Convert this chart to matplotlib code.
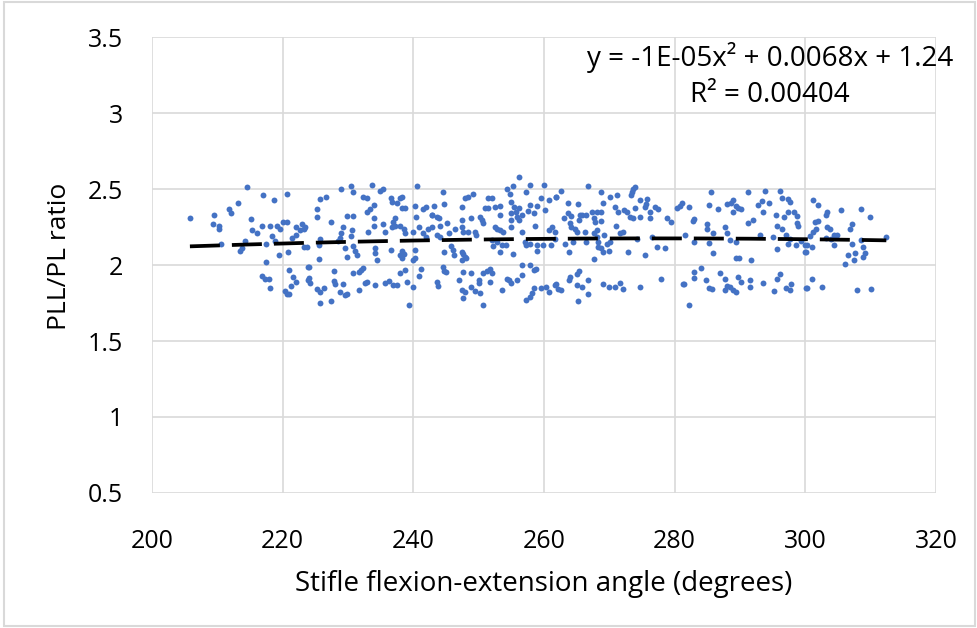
import numpy as np
import matplotlib.pyplot as plt

# stifle angle (degrees) and PLL/PL ratio
angle = [
    205.8, 214.6, 217.0, 218.7, 220.6, 213.1, 211.8, 212.1, 209.5, 209.4, 210.3, 210.3,
    215.2, 216.9, 215.3, 216.0, 218.0, 218.3, 219.1, 219.6, 220.1, 220.7, 214.2, 210.6,
    213.5, 213.7, 217.4, 218.9, 219.4, 220.8, 217.4, 216.8, 217.3, 217.9, 218.1, 221.0,
    221.6, 222.0, 221.3, 220.3, 220.6, 221.0, 222.1, 222.7, 222.1, 222.9, 223.2, 221.4,
    223.3, 223.9, 223.9,
    225.7, 226.6, 225.2, 225.2, 227.4, 223.4, 225.7, 225.6, 223.7, 225.5, 224.0, 224.0,
    224.2, 225.2, 225.7, 226.4, 225.7, 227.4, 227.8, 227.8, 228.0, 228.7, 229.3, 229.5,
    229.9, 229.0, 230.5, 230.7, 229.8, 230.8, 229.3, 229.0, 228.8, 228.5, 230.6, 230.5,
    230.7, 229.5, 231.1, 231.3, 229.9, 231.7, 232.0, 232.3, 230.7, 231.7, 232.6, 232.9,
    232.3, 232.9, 233.6, 234.9, 235.3, 234.0, 233.4, 232.9, 234.0, 234.0, 233.0, 235.4,
    235.7, 234.1, 234.2, 234.4, 234.1, 235.7, 236.2, 236.9, 237.5, 236.6, 236.8, 237.5,
    237.9, 238.2, 237.2, 236.9, 237.2, 236.8, 238.0, 238.5, 238.7, 238.2, 238.7, 236.6,
    238.2, 238.0, 238.5, 238.2, 238.0, 238.7, 239.0, 239.9, 239.3, 240.5, 240.3, 240.4,
    240.8, 239.9, 240.3, 240.3, 240.0, 241.2, 240.8, 241.5, 242.0, 242.8, 243.1, 242.3,
    241.5, 242.0,
    244.5, 244.7, 242.8, 243.6, 244.0, 242.8, 244.1, 245.2, 246.4, 243.6, 244.1, 245.4,
    247.4, 247.4, 247.6, 247.4, 247.9, 248.4, 249.2, 248.3, 248.9, 249.4, 249.6, 250.2,
    250.5, 251.0, 250.7, 251.5, 252.0, 251.5, 252.5, 253.2, 253.3, 252.5, 252.8, 253.3,
    253.7, 252.0, 252.2, 252.8, 253.5, 254.2, 253.2, 245.7, 246.0, 246.2, 244.7, 247.4,
    247.6, 247.9, 247.4, 248.1, 244.5, 244.7, 245.0, 247.6, 247.0, 243.6, 243.8, 247.4,
    247.9, 247.6, 248.9, 248.8, 250.0, 250.1, 250.2, 249.4, 250.7, 251.3, 251.7, 252.0,
    251.8, 250.6, 253.5, 254.4, 254.7, 255.0, 255.8, 256.7, 256.6, 255.2, 254.8, 254.3,
    255.3, 256.2, 254.9, 255.4, 255.7, 256.1, 255.0, 255.9, 255.0, 254.9, 256.2, 256.6,
    257.3, 257.9, 257.9, 257.6, 258.9, 258.5, 259.6, 258.6, 256.6, 257.1, 257.3, 257.8,
    258.9, 259.0, 259.9, 260.0, 260.2, 260.7, 260.7, 261.2, 261.0, 261.7, 261.9, 257.8,
    258.4, 258.8, 258.1, 257.8, 257.3, 258.4, 259.6, 260.3, 260.8, 261.7, 262.2,
    262.6, 261.9, 263.7, 265.2, 266.8, 268.8, 269.0, 270.1, 271.1, 270.9, 273.4, 273.7,
    274.0, 273.3, 274.7, 275.7, 275.6, 275.4, 277.0, 277.5, 263.7, 264.1, 263.0, 265.5,
    265.3, 265.8, 266.5, 267.3, 267.6, 268.1, 268.8, 267.8, 268.8, 264.0, 264.2, 264.8,
    265.0, 266.3, 268.1, 271.0, 271.4, 272.2, 272.7, 273.2, 274.0, 273.7, 274.7, 276.2,
    276.2, 278.8, 279.4, 280.3, 280.8, 261.7, 263.2, 264.5, 263.9, 266.5, 267.6, 268.1,
    268.2, 268.3, 268.8, 269.2, 269.6, 270.1, 269.1, 269.9, 271.6, 272.1, 272.9, 274.2,
    275.5, 276.5, 277.3, 278.5, 267.7, 265.3, 265.0, 264.0, 263.8, 261.9, 262.6, 265.0,
    265.8, 266.7, 266.8, 265.2, 269.1, 269.9, 270.8, 271.6, 272.1, 274.7, 277.9, 281.3,
    285.5, 285.3, 286.7, 282.2, 281.1, 282.8, 283.0, 284.9, 285.0, 287.7, 288.0, 285.8,
    281.6, 288.0, 288.6, 289.0, 289.4, 289.7, 290.1, 289.0, 291.3, 292.8, 293.3, 293.5,
    293.8, 294.5, 291.3, 292.0, 293.0, 296.1, 296.4, 297.4, 297.7, 295.5, 296.7, 297.4,
    298.2, 298.7, 298.7, 298.9, 295.6, 296.4, 297.0, 295.1, 297.4, 297.7, 298.6, 299.4,
    299.9, 300.1, 295.7, 282.9, 285.2, 288.4, 289.4, 285.8, 289.4, 289.9, 291.7, 281.4,
    282.2, 283.0, 283.0, 284.1, 284.8, 285.2, 285.7, 287.0, 287.7, 288.0, 287.7, 288.5,
    289.0, 289.4, 289.7, 290.1, 291.5, 291.6, 293.5, 295.2, 295.6, 296.1, 297.0, 297.8,
    297.7, 300.1,
    301.2, 302.0, 303.3, 303.1, 305.5, 308.5, 309.9, 301.5, 302.0, 301.7, 301.2, 303.3,
    303.8, 307.1, 306.8, 300.7, 303.1, 304.4, 304.9, 304.0, 300.2, 301.1, 300.0, 304.4,
    307.1, 308.6, 308.9, 312.4, 306.6, 307.6, 307.4, 306.1, 308.9, 309.2, 301.1, 300.2,
    302.6, 307.9, 310.1,
]

ratio = [
    2.311, 2.513, 2.460, 2.430, 2.470, 2.410, 2.370, 2.340, 2.330, 2.270, 2.257, 2.240,
    2.300, 2.260, 2.230, 2.210, 2.257, 2.190, 2.260, 2.240, 2.285, 2.280, 2.160, 2.140,
    2.090, 2.110, 2.136, 2.158, 2.068, 2.088, 2.018, 1.930, 1.910, 1.906, 1.850, 1.965,
    1.920, 1.890, 1.864, 1.830, 1.810, 1.810, 2.250, 2.230, 2.200, 2.270, 2.240, 2.175,
    2.120, 1.990, 1.900,
    2.434, 2.450, 2.370, 2.316, 2.280, 2.250, 2.170, 2.130, 2.120, 2.040, 1.990, 1.917,
    1.880, 1.840, 1.825, 1.850, 1.750, 1.760, 1.960, 1.895, 1.873, 1.825, 1.873, 1.800,
    1.810, 2.500, 2.520, 2.480, 2.325, 2.325, 2.250, 2.210, 2.180, 2.158, 2.230, 2.190,
    2.127, 2.110, 2.090, 2.066, 2.055, 1.956, 1.967, 1.980, 1.950, 1.836, 1.880, 1.890,
    2.450, 2.440, 2.526, 2.487, 2.500, 2.395, 2.370, 2.350, 2.310, 2.260, 2.220, 2.270,
    2.220, 2.110, 2.077, 2.033, 1.870, 1.880, 1.895, 1.870, 1.870, 2.440, 2.417, 2.405,
    2.440, 2.450, 2.307, 2.285, 2.260, 2.250, 2.260, 2.240, 2.210, 2.373, 2.373, 2.100,
    2.090, 2.066, 2.070, 2.044, 1.945, 1.967, 1.890, 1.857, 1.737, 2.520, 2.390, 2.318,
    2.250, 2.220, 2.100, 2.044, 2.033, 1.974, 1.930, 2.370, 2.380, 2.330, 2.390, 2.240,
    2.210, 2.186,
    2.478, 2.400, 2.330, 2.318, 2.307, 2.250, 2.260, 2.274, 2.240, 2.197, 2.186, 2.210,
    2.296, 2.250, 2.220, 2.384, 2.440, 2.450, 2.470, 2.220, 2.307, 2.220, 2.197, 2.318,
    2.296, 2.373, 2.274, 2.440, 2.440, 2.373, 2.384, 2.390, 2.330, 2.250, 2.240, 2.230,
    2.220, 2.164, 2.127, 2.153, 2.130, 2.130, 2.083, 2.127, 2.100, 2.066, 2.083, 2.083,
    2.070, 2.055, 2.033, 2.044, 1.989, 1.960, 1.956, 1.956, 1.900, 1.890, 1.864, 1.835,
    1.825, 1.785, 1.945, 1.857, 1.900, 1.880, 1.818, 1.830, 1.950, 1.960, 1.974, 1.950,
    1.886, 1.737, 1.835, 1.910, 1.900, 1.880, 1.900, 1.934, 2.000, 2.070, 2.470, 2.500,
    2.520, 2.580, 2.417, 2.384, 2.350, 2.373, 2.340, 2.318, 2.296, 2.250, 2.296, 2.330,
    2.480, 2.526, 2.395, 2.355, 2.390, 2.340, 2.440, 2.260, 2.220, 2.153, 2.130, 2.140,
    2.130, 2.090, 2.130, 2.526, 2.360, 2.430, 2.230, 2.250, 2.130, 2.170, 2.450, 2.000,
    1.967, 1.974, 1.814, 1.790, 1.770, 1.846, 1.850, 1.857, 1.825, 1.870, 1.840,
    2.487, 2.450, 2.405, 2.400, 2.520, 2.480, 2.410, 2.450, 2.460, 2.384, 2.480, 2.500,
    2.515, 2.460, 2.430, 2.434, 2.400, 2.384, 2.384, 2.370, 2.340, 2.325, 2.307, 2.330,
    2.296, 2.330, 2.330, 2.350, 2.310, 2.350, 2.350, 2.280, 2.290, 2.274, 2.250, 2.240,
    2.220, 2.220, 2.230, 2.260, 2.350, 2.360, 2.350, 2.318, 2.373, 2.307, 2.318, 2.350,
    2.307, 2.310, 2.280, 2.373, 2.390, 2.220, 2.140, 2.150, 2.083, 2.150, 2.210, 2.186,
    2.150, 2.120, 2.110, 2.197, 2.140, 2.153, 2.083, 2.090, 2.210, 2.220, 2.083, 2.170,
    2.066, 2.186, 2.120, 2.110, 2.040, 1.960, 1.940, 1.923, 1.900, 1.873, 1.835, 1.870,
    1.857, 1.900, 1.807, 1.760, 1.873, 1.857, 1.857, 1.880, 1.840, 1.857, 1.906, 1.873,
    2.478, 2.395, 2.370, 2.384, 2.410, 2.290, 2.300, 2.270, 2.240, 2.250, 2.210, 2.210,
    2.197, 2.400, 2.405, 2.430, 2.390, 2.377, 2.370, 2.350, 2.478, 2.395, 2.420, 2.350,
    2.490, 2.405, 2.274, 2.296, 2.200, 2.490, 2.440, 2.434, 2.417, 2.330, 2.318, 2.350,
    2.350, 2.325, 2.274, 2.260, 2.260, 2.237, 2.197, 2.186, 2.140, 2.170, 2.130, 2.158,
    2.130, 2.083, 2.105, 2.153, 2.147, 2.164, 2.153, 2.077, 2.048, 2.048, 2.033, 1.873,
    1.740, 1.956, 1.917, 1.978, 1.900, 1.850, 1.840, 1.950, 1.908, 1.864, 1.835, 1.857,
    1.835, 1.825, 1.923, 1.886, 1.900, 1.857, 1.880, 1.830, 1.908, 1.940, 1.850, 1.873,
    1.835, 1.850,
    2.430, 2.395, 2.350, 2.330, 2.360, 2.370, 2.318, 2.285, 2.290, 2.235, 2.220, 2.250,
    2.237, 2.268, 2.240, 2.193, 2.175, 2.197, 2.200, 2.170, 2.130, 2.120, 2.083, 2.130,
    2.140, 2.164, 2.120, 2.186, 2.066, 2.077, 2.030, 2.004, 2.055, 2.077, 1.908, 1.846,
    1.857, 1.835, 1.840,
]

x = np.array(angle)
y = np.array(ratio)

plt.rcParams['font.family'] = ['Open Sans', 'DejaVu Sans']

fig = plt.figure(figsize=(9.77, 6.28), dpi=100)
ax = fig.add_axes([0.1556, 0.215, 0.8024, 0.726])

ax.scatter(x, y, s=18, color="#4472C4", linewidths=0, zorder=3)

# second order polynomial trendline
coef = np.polyfit(x, y, 2)
xs = np.linspace(x.min(), x.max(), 200)
ax.plot(xs, np.polyval(coef, xs), color="black", lw=2.7, dashes=(8, 3.2), zorder=4)

ax.set_xlim(200, 320)
ax.set_ylim(0.5, 3.5)
ax.set_xticks(np.arange(200, 321, 20))
ax.set_yticks(np.arange(0.5, 3.51, 0.5))
ax.set_yticklabels(["0.5", "1", "1.5", "2", "2.5", "3", "3.5"])
ax.grid(True, color="#d9d9d9", lw=1.2)
ax.set_axisbelow(True)
for s in ax.spines.values():
    s.set_visible(False)
ax.tick_params(length=0, labelsize=18, colors="black")
ax.tick_params(axis="y", pad=21)
ax.tick_params(axis="x", pad=26)

ax.set_xlabel("Stifle flexion-extension angle (degrees)", fontsize=20, va="center")
ax.xaxis.set_label_coords(0.5, -0.2)
ax.set_ylabel("PLL/PL ratio", fontsize=19, va="center")
ax.yaxis.set_label_coords(-0.1175, 0.52)

fig.text(0.788, 0.909, "y = -1E-05x² + 0.0068x + 1.24", ha="center", va="center",
         fontsize=20)
fig.text(0.788, 0.849, "R² = 0.00404", ha="center", va="center", fontsize=20)

# light chart border
fig.patches.append(plt.Rectangle((0.004, 0.003), 0.994, 0.994, transform=fig.transFigure,
                                 fill=False, edgecolor="#d9d9d9", lw=1.5))

fig.savefig("out.png", dpi=100)
